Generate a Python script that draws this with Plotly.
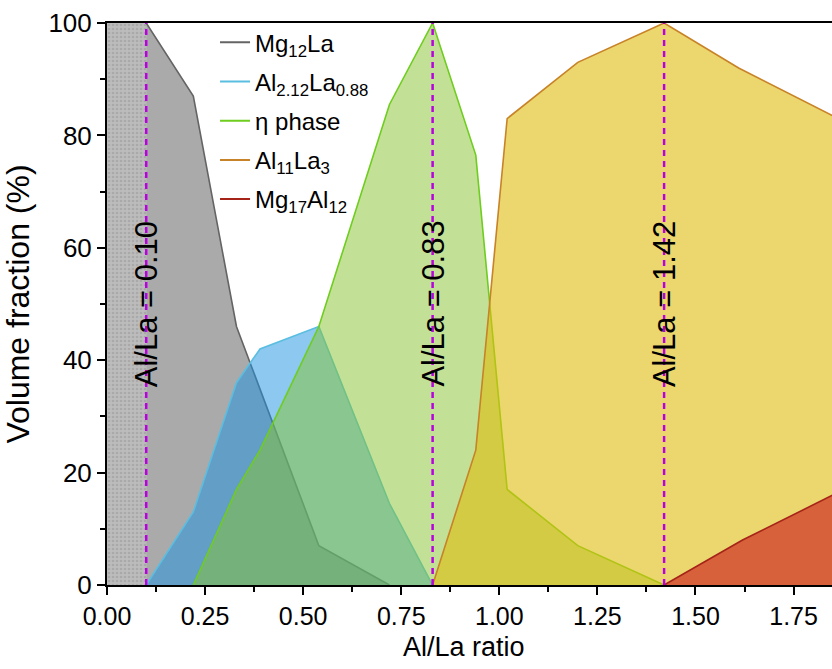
import plotly.graph_objects as go

# Phase volume fractions (%) versus Al/La ratio
mg12la_x = [0.10, 0.22, 0.33, 0.54, 0.72]
mg12la_y = [100, 87, 46, 7, 0]

al212la088_x = [0.10, 0.22, 0.33, 0.39, 0.54, 0.72, 0.83]
al212la088_y = [0, 13, 36, 42, 46, 14.5, 0]

eta_x = [0.22, 0.33, 0.39, 0.54, 0.72, 0.83, 0.94, 1.02, 1.20, 1.42]
eta_y = [0, 17, 24, 46, 85.5, 100, 76.5, 17, 7, 0]

al11la3_x = [0.83, 0.94, 1.02, 1.20, 1.42, 1.61, 1.85]
al11la3_y = [0, 24, 83, 93, 100, 92, 83.5]

mg17al12_x = [1.42, 1.62, 1.85]
mg17al12_y = [0, 8, 16]

# Single-phase zone at low Al/La
single_zone_x = [0.0, 0.10]
single_zone_y = [100, 100]

# Marked compositions
marked_ratios = [0.10, 0.83, 1.42]

x_ticks = [0.00, 0.25, 0.50, 0.75, 1.00, 1.25, 1.50, 1.75]
y_ticks = [0, 20, 40, 60, 80, 100]

series = [
    ("Mg<sub>12</sub>La", mg12la_x, mg12la_y, "rgb(100,100,100)", "rgba(85,85,85,0.5)"),
    ("Al<sub>2.12</sub>La<sub>0.88</sub>", al212la088_x, al212la088_y, "rgb(90,190,225)", "rgba(25,145,225,0.5)"),
    ("η phase", eta_x, eta_y, "rgb(110,205,30)", "rgba(135,195,45,0.5)"),
    ("Al<sub>11</sub>La<sub>3</sub>", al11la3_x, al11la3_y, "rgb(200,130,40)", "rgba(222,188,13,0.6)"),
    ("Mg<sub>17</sub>Al<sub>12</sub>", mg17al12_x, mg17al12_y, "rgb(165,35,25)", "rgba(206,51,39,0.72)"),
]

TEXT_FONT = "Liberation Sans, Arial, sans-serif"

fig = go.Figure()

fig.add_trace(go.Scatter(
    x=single_zone_x, y=single_zone_y, mode="lines", fill="tozeroy",
    line=dict(width=0),
    fillpattern=dict(shape=".", bgcolor="rgb(188,188,188)", fgcolor="rgb(150,150,150)",
                     size=4, solidity=0.35),
    showlegend=False, hoverinfo="skip",
))

for name, xs, ys, lc, fc in series:
    fig.add_trace(go.Scatter(
        x=xs, y=ys, mode="lines", fill="tozeroy", fillcolor=fc,
        line=dict(color=lc, width=1.6), showlegend=False, name=name,
    ))

# Legend entries shown as plain line samples
for i, (name, xs, ys, lc, fc) in enumerate(series):
    fig.add_trace(go.Scatter(
        x=[None], y=[None], mode="lines", name=name,
        line=dict(color=lc, width=2), legendgroup=f"g{i}",
    ))

for r in marked_ratios:
    fig.add_trace(go.Scatter(
        x=[r, r], y=[0, 100], mode="lines",
        line=dict(color="rgb(185,0,225)", width=2.5, dash="6px,5px"),
        showlegend=False, hoverinfo="skip",
    ))
    fig.add_annotation(
        x=r, y=50, xref="x", yref="y", text=f"Al/La = {r:.2f}",
        textangle=-90, showarrow=False,
        font=dict(family=TEXT_FONT, size=31, color="black"),
    )

# x-axis title placed just under the tick labels
fig.add_annotation(
    x=0.493, y=0, xref="paper", yref="paper", yshift=-45,
    xanchor="center", yanchor="top", showarrow=False,
    text="Al/La ratio", font=dict(family=TEXT_FONT, size=27, color="black"),
)

fig.update_layout(
    width=832, height=669,
    margin=dict(l=107, r=0, t=23, b=84),
    plot_bgcolor="white", paper_bgcolor="white",
    font=dict(family=TEXT_FONT, color="black"),
    legend=dict(
        x=0.149, y=1.005, xanchor="left", yanchor="top",
        bgcolor="rgba(0,0,0,0)", tracegroupgap=5,
        font=dict(family=TEXT_FONT, size=24, color="black"),
    ),
    showlegend=True,
)

fig.update_xaxes(
    range=[0, 1.848], tickvals=x_ticks, ticktext=[f"{v:.2f}" for v in x_ticks],
    showgrid=False, zeroline=False,
    showline=True, linecolor="black", linewidth=2, mirror=True,
    ticks="outside", ticklen=8, tickwidth=2, tickcolor="black",
    minor=dict(dtick=0.125, tick0=0, ticks="outside", ticklen=5, tickwidth=2, tickcolor="black"),
    tickfont=dict(size=25),
)
fig.update_yaxes(
    range=[0, 100], tickvals=y_ticks,
    showgrid=False, zeroline=False,
    showline=True, linecolor="black", linewidth=2,
    ticks="outside", ticklen=8, tickwidth=2, tickcolor="black",
    minor=dict(dtick=10, tick0=0, ticks="outside", ticklen=5, tickwidth=2, tickcolor="black"),
    tickfont=dict(size=26),
    title=dict(text="Volume fraction (%)", font=dict(size=32), standoff=10),
)

fig.write_html("out.html")
